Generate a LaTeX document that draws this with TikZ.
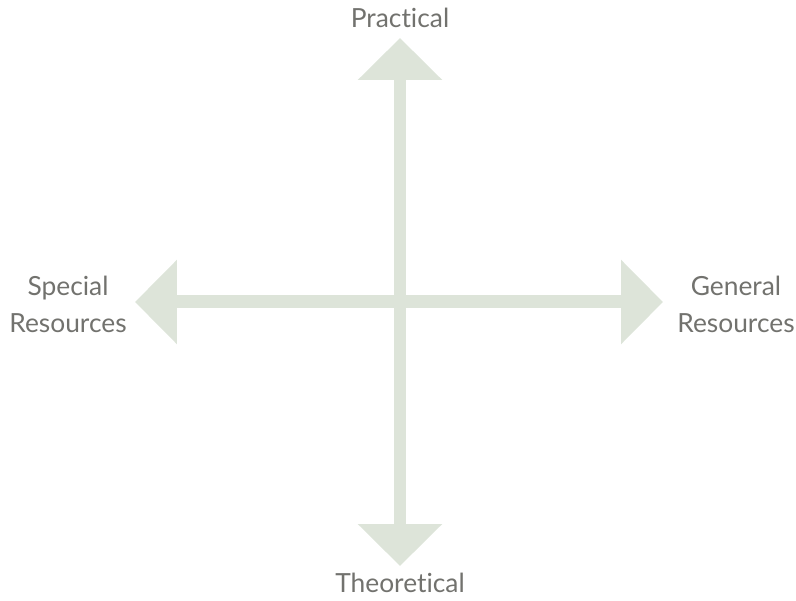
\documentclass[tikz,border=0pt]{standalone}
\usepackage{fontspec}
\setmainfont{Lato}[Ligatures={NoCommon}, RawFeature={-liga;-dlig}]
\usepackage{xcolor}
\usetikzlibrary{arrows.meta}

\definecolor{axisgreen}{HTML}{DDE4D9}
\definecolor{labelgray}{HTML}{72726E}

\begin{document}
\begin{tikzpicture}[x=0.02cm, y=-0.02cm,
        axisarrow/.style={draw=axisgreen, line width=0.26cm,
            {Triangle[length=0.84cm, width=1.64cm]}-{Triangle[length=0.84cm, width=1.64cm]}},
        axislabel/.style={text=labelgray, align=center,
            font=\fontsize{15}{21}\selectfont}]
        \useasboundingbox (0,0) rectangle (796,601);
        \coordinate (top)    at (400,38);
        \coordinate (bottom) at (400,566);
        \coordinate (left)   at (135,302);
        \coordinate (right)  at (663,302);

        \draw[axisarrow] (left) -- (right);
        \draw[axisarrow] (bottom) -- (top);

        \node[axislabel] (practical)   at (400,18)  {Practical};
        \node[axislabel] (theoretical) at (400,583) {Theoretical};
        \node[axislabel] (special)     at (68,304)  {Special\\Resources};
        \node[axislabel] (general)     at (736,304) {General\\Resources};
    \end{tikzpicture}
\end{document}
